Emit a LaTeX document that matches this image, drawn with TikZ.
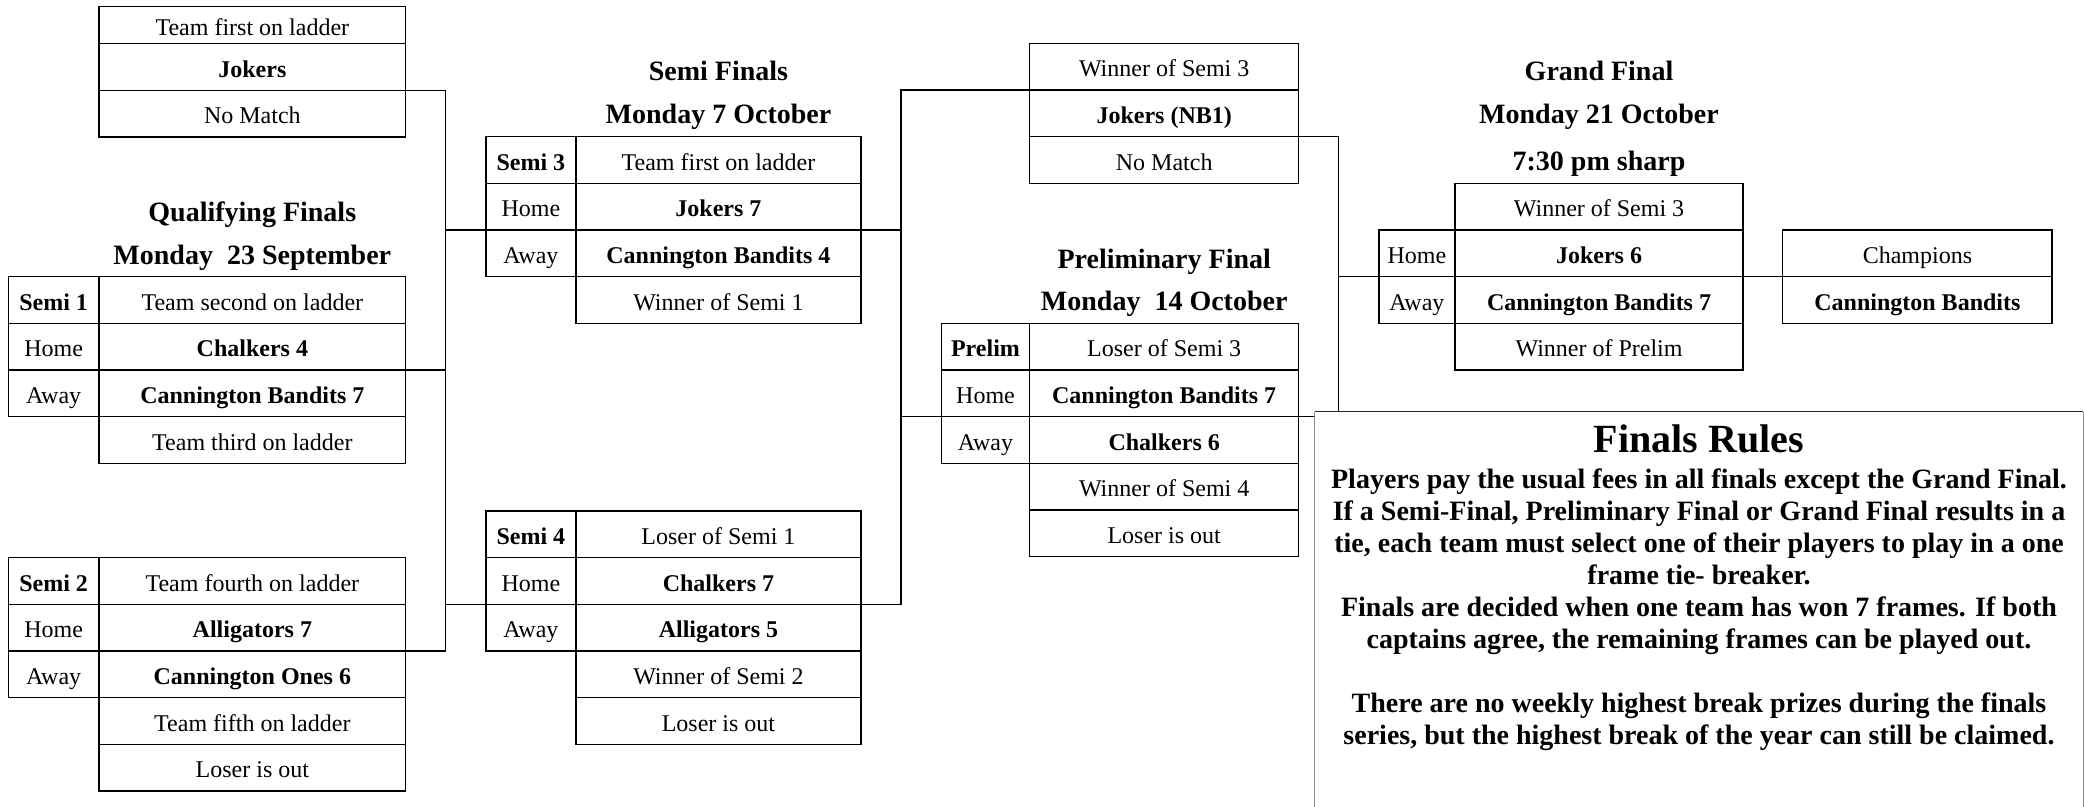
\documentclass[tikz,border=0pt]{standalone}
\usepackage{fontspec}
\setmainfont{Liberation Serif}
\tikzset{every picture/.style={line width=0.75pt}}

\begin{document}
\begin{tikzpicture}[x=0.5pt,y=0.5pt,yscale=-1,xscale=1,
  cell/.style={draw, anchor=north west, inner sep=0pt, outer sep=0pt, minimum height=23.33pt, text height=10.25pt, text depth=0pt, font=\fontsize{12}{14}\selectfont},
  team/.style={cell, font=\fontsize{12}{14}\selectfont\bfseries},
  title/.style={anchor=base, inner sep=0pt, font=\fontsize{14}{16}\selectfont\bfseries},
  wql/.style={minimum width=45.35pt}, wqm/.style={minimum width=153.35pt},
  wsl/.style={minimum width=45pt}, wsm/.style={minimum width=142.55pt},
  wpl/.style={minimum width=44.2pt}, wpm/.style={minimum width=134.5pt},
  wgl/.style={minimum width=38.05pt}, wgm/.style={minimum width=144.15pt},
  wch/.style={minimum width=134.8pt}]
\useasboundingbox (0,0) rectangle (2084,807);

% Bye box
\node[cell, wqm, minimum height=18.5pt] (byeA) at (99,6.7) {Team first on ladder};
\node[team, wqm] (byeB) at (99,43.7) {Jokers};
\node[cell, wqm] (byeC) at (99,90.37) {No Match};

% Qualifying Finals
\node[title] (qfTitle) at (252.3,221.7) {Qualifying Finals};
\node[title] (qfDate) at (252.3,265) {Monday~~23 September};
% Semi 1
\node[team, wql] (s1tag) at (8.3,276.7) {Semi 1};
\node[cell, wql] (s1home) at (8.3,323.37) {Home};
\node[cell, wql] (s1away) at (8.3,370.03) {Away};
\node[cell, wqm] (s1r1) at (99,276.7) {Team second on ladder};
\node[team, wqm] (s1r2) at (99,323.37) {Chalkers 4};
\node[team, wqm] (s1r3) at (99,370.03) {Cannington Bandits 7};
\node[cell, wqm] (s1r4) at (99,416.7) {Team third on ladder};
% Semi 2
\node[team, wql] (s2tag) at (8.3,557.7) {Semi 2};
\node[cell, wql] (s2home) at (8.3,604.37) {Home};
\node[cell, wql] (s2away) at (8.3,651.03) {Away};
\node[cell, wqm] (s2r1) at (99,557.7) {Team fourth on ladder};
\node[team, wqm] (s2r2) at (99,604.37) {Alligators 7};
\node[team, wqm] (s2r3) at (99,651.03) {Cannington Ones 6};
\node[cell, wqm] (s2r4) at (99,697.7) {Team fifth on ladder};
\node[cell, wqm] (s2r5) at (99,744.37) {Loser is out};

% Semi Finals
\node[title] (sfTitle) at (718.5,80.7) {Semi Finals};
\node[title] (sfDate) at (718.5,124) {Monday 7 October};
% Semi 3
\node[team, wsl] (s3tag) at (485.9,136.7) {Semi 3};
\node[cell, wsl] (s3home) at (485.9,183.37) {Home};
\node[cell, wsl] (s3away) at (485.9,230.03) {Away};
\node[cell, wsm] (s3r1) at (575.9,136.7) {Team first on ladder};
\node[team, wsm] (s3r2) at (575.9,183.37) {Jokers 7};
\node[team, wsm] (s3r3) at (575.9,230.03) {Cannington Bandits 4};
\node[cell, wsm] (s3r4) at (575.9,276.7) {Winner of Semi 1};
% Semi 4
\node[team, wsl] (s4tag) at (485.9,511) {Semi 4};
\node[cell, wsl] (s4home) at (485.9,557.67) {Home};
\node[cell, wsl] (s4away) at (485.9,604.33) {Away};
\node[cell, wsm] (s4r1) at (575.9,511) {Loser of Semi 1};
\node[team, wsm] (s4r2) at (575.9,557.67) {Chalkers 7};
\node[team, wsm] (s4r3) at (575.9,604.33) {Alligators 5};
\node[cell, wsm] (s4r4) at (575.9,651) {Winner of Semi 2};
\node[cell, wsm] (s4r5) at (575.9,697.67) {Loser is out};

% NB1 box
\node[cell, wpm] (nbA) at (1029.7,43.3) {Winner of Semi 3};
\node[team, wpm] (nbB) at (1029.7,89.97) {Jokers (NB1)};
\node[cell, wpm] (nbC) at (1029.7,136.63) {No Match};

% Preliminary Final
\node[title] (pfTitle) at (1164.2,268.3) {Preliminary Final};
\node[title] (pfDate) at (1164.2,311) {Monday~~14 October};
\node[team, wpl] (pftag) at (941.3,323.3) {Prelim};
\node[cell, wpl] (pfhome) at (941.3,369.97) {Home};
\node[cell, wpl] (pfaway) at (941.3,416.63) {Away};
\node[cell, wpm] (pfr1) at (1029.7,323.3) {Loser of Semi 3};
\node[team, wpm] (pfr2) at (1029.7,369.97) {Cannington Bandits 7};
\node[team, wpm] (pfr3) at (1029.7,416.63) {Chalkers 6};
\node[cell, wpm] (pfr4) at (1029.7,463.3) {Winner of Semi 4};
\node[cell, wpm] (pfr5) at (1029.7,509.97) {Loser is out};

% Grand Final
\node[title] (gfTitle) at (1599,81) {Grand Final};
\node[title] (gfDate) at (1599,124) {Monday 21 October};
\node[title] (gfTime) at (1599,170.5) {7:30 pm sharp};
\node[cell, wgl] (gfhome) at (1378.8,229.97) {Home};
\node[cell, wgl] (gfaway) at (1378.8,276.63) {Away};
\node[cell, wgm] (gfr1) at (1454.9,183.3) {Winner of Semi 3};
\node[team, wgm] (gfr2) at (1454.9,229.97) {Jokers 6};
\node[team, wgm] (gfr3) at (1454.9,276.63) {Cannington Bandits 7};
\node[cell, wgm] (gfr4) at (1454.9,323.3) {Winner of Prelim};
% Champions
\node[cell, wch] (chA) at (1782.6,229.97) {Champions};
\node[team, wch] (chB) at (1782.6,276.63) {Cannington Bandits};

%Straight Lines
\coordinate (spL) at (445.7,370.03);
\coordinate (spM) at (901.2,416.63);
\coordinate (spR) at (1338.7,276.63);
\draw (byeC.north east) -| (spL);
\draw (s1r3.north east) -- (spL);
\draw (s2r3.north east) -| (spL);
\draw (s3away.north west) -- (s3away.north west -| spL);
\draw (s4away.north west) -- (s4away.north west -| spL);
\draw (nbB.north west) -| (spM);
\draw (pfaway.north west) -- (spM);
\draw (s3r3.north east) -- (s3r3.north east -| spM);
\draw (s4r3.north east) -| (spM);
\draw (nbC.north east) -| (spR);
\draw (gfaway.north west) -- (spR);
\draw (pfr3.north east) -| (spR);
\draw (gfr3.north east) -- (chB.north west);

%Shape: Rectangle
\fill[white] (1314.5,411.7) rectangle (2084,807);
\draw[black!45, line width=0.5pt] (1314.5,807) -- (1314.5,411.7) (2083.3,411.7) -- (2083.3,807);
\draw[black!85] (1314.5,411.7) -- (2083.3,411.7);

% Text Node
\node[anchor=base, inner sep=0pt, font=\fontsize{20}{24}\selectfont\bfseries] (rulesHead) at (1699,452.7) {Finals Rules};
% Text Node
\node[anchor=north, inner sep=0pt, align=center, font=\fontsize{14}{16}\selectfont\bfseries] (rulesBody) at (1699,468) {Players pay the usual fees in all finals except the Grand Final.\\If a Semi-Final, Preliminary Final or Grand Final results in a\\tie, each team must select one of their players to play in a one\\frame tie- breaker.\\Finals are decided when one team has won 7 frames. If both\\captains agree, the remaining frames can be played out.\\[16pt]There are no weekly highest break prizes during the finals\\series, but the highest break of the year can still be claimed.};
\end{tikzpicture}
\end{document}
